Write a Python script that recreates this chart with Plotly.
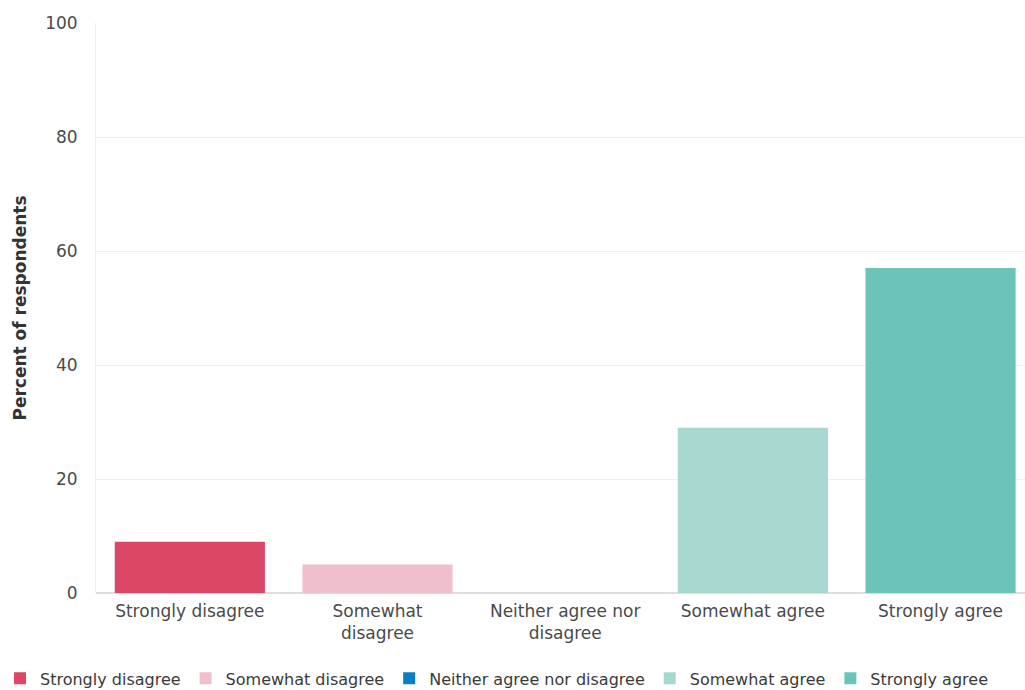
import plotly.graph_objects as go

categories = ["Strongly disagree", "Somewhat disagree", "Neither agree nor disagree",
              "Somewhat agree", "Strongly agree"]
tick_labels = ["Strongly disagree", "Somewhat<br>disagree", "Neither agree nor<br>disagree",
               "Somewhat agree", "Strongly agree"]
percent = [9, 5, 0, 29, 57]
colors = ["#dc4767", "#f0bfcc", "#0a7fc2", "#a6d8cf", "#6cc4b8"]

fig = go.Figure()
for cat, val, col in zip(categories, percent, colors):
    fig.add_trace(go.Bar(x=[cat], y=[val], name=cat, marker_color=col,
                         marker_line_width=0, width=0.8))

font_family = "DejaVu Sans, Verdana, sans-serif"
fig.update_layout(
    width=1025, height=690,
    margin=dict(l=96, r=0, t=23, b=97, autoexpand=False),
    paper_bgcolor="white", plot_bgcolor="white",
    barmode="overlay",
    font=dict(family=font_family, color="#4a4a4a", size=17),
    showlegend=True,
    legend=dict(orientation="h", x=-0.1033, xanchor="left",
                y=-0.12, yanchor="top", bgcolor="rgba(0,0,0,0)",
                font=dict(size=16, color="#3a3a3a"), itemwidth=30,
                tracegroupgap=0),
    xaxis=dict(
        categoryorder="array", categoryarray=categories,
        tickmode="array", tickvals=categories, ticktext=tick_labels,
        range=[-0.5, 4.45], showgrid=False, showline=False, zeroline=False,
        ticks="", ticklabelstandoff=6, tickfont=dict(size=17, color="#4a4a4a"),
    ),
    yaxis=dict(
        range=[0, 100], tickvals=[0, 20, 40, 60, 80, 100],
        showgrid=True, gridcolor="#eeeeee", gridwidth=1,
        showline=True, linecolor="#eeeeee", linewidth=1,
        zeroline=True, zerolinecolor="#dddddd",
        ticks="", ticklabelstandoff=14,
        tickfont=dict(size=17, color="#4a4a4a"),
        title=dict(text="<b>Percent of respondents</b>", standoff=14,
                   font=dict(size=17, color="#333333")),
    ),
)

fig.write_html("out.html")
